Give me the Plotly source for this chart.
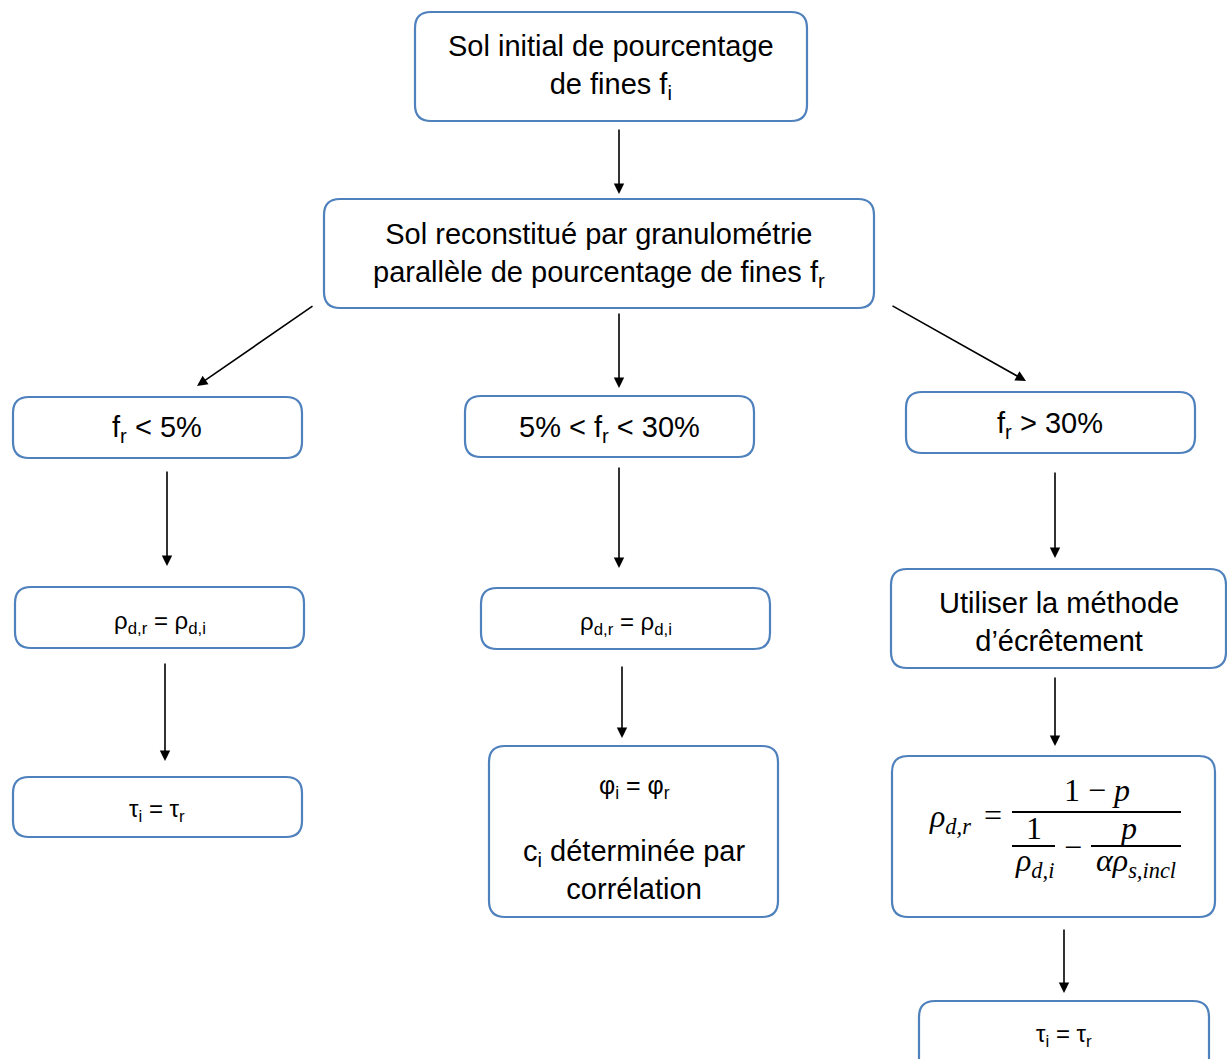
import plotly.graph_objects as go

# ---- content ----
box_labels = [
    "Sol initial de pourcentage<br>de fines f<sub>i</sub>",
    "Sol reconstitué par granulométrie<br>parallèle de pourcentage de fines f<sub>r</sub>",
    "f<sub>r</sub> < 5%",
    "5% < f<sub>r</sub> < 30%",
    "f<sub>r</sub> > 30%",
    "ρ<sub>d,r</sub> = ρ<sub>d,i</sub>",
    "ρ<sub>d,r</sub> = ρ<sub>d,i</sub>",
    "Utiliser la méthode<br>d’écrêtement",
    "τ<sub>i</sub> = τ<sub>r</sub>",
    "",
    "",
    "τ<sub>i</sub> = τ<sub>r</sub>",
]

# ---- layout geometry (pixels) ----
box_rects = [
    (415, 12, 807, 121),
    (324, 199, 874, 308),
    (13, 397, 302, 458),
    (465, 396, 754, 457),
    (906, 392, 1195, 453),
    (15, 587, 304, 648),
    (481, 588, 770, 649),
    (891, 569, 1226, 668),
    (13, 777, 302, 837),
    (489, 746, 778, 917),
    (892, 756, 1215, 917),
    (919, 1001, 1209, 1075),
]
box_text_pos = [
    (611, 67, 29), (599, 255, 29), (157, 429, 29), (609, 429, 29), (1050, 425, 29),
    (160, 622, 24), (626, 623, 24), (1059, 622, 29), (157, 810, 24),
    (0, 0, 0), (0, 0, 0), (1064, 1035, 24),
]
arrows = [
    (619, 128, 619, 194), (619, 312, 619, 388), (314, 305, 197, 386),
    (891, 305, 1026, 381), (167, 470, 167, 566), (619, 466, 619, 568),
    (1055, 471, 1055, 558), (165, 662, 165, 761), (622, 665, 622, 738),
    (1055, 676, 1055, 746), (1064, 928, 1064, 993),
]

BLUE = "#4F81BD"
r = 16

def rounded(x0, y0, x1, y1, r):
    return (f"M {x0+r},{y0} L {x1-r},{y0} Q {x1},{y0} {x1},{y0+r} "
            f"L {x1},{y1-r} Q {x1},{y1} {x1-r},{y1} L {x0+r},{y1} "
            f"Q {x0},{y1} {x0},{y1-r} L {x0},{y0+r} Q {x0},{y0} {x0+r},{y0} Z")

fig = go.Figure()
fig.add_trace(go.Scatter(x=[0, 1227], y=[0, 1059], mode="markers",
                         marker=dict(opacity=0), hoverinfo="skip", showlegend=False))

shapes = []
for (x0, y0, x1, y1) in box_rects:
    shapes.append(dict(type="path", path=rounded(x0, y0, x1, y1, r), xref="x", yref="y",
                       line=dict(color=BLUE, width=2.2), fillcolor="white", layer="below"))

annotations = []
FONT = "Liberation Sans, Arial, sans-serif"
for lab, (x, y, s) in zip(box_labels, box_text_pos):
    if not lab:
        continue
    annotations.append(dict(x=x, y=y, xref="x", yref="y", text=lab, showarrow=False,
                            font=dict(family=FONT, size=s, color="black"),
                            align="center", xanchor="center", yanchor="middle"))

# phi box text
annotations.append(dict(x=634, y=787, xref="x", yref="y", text="φ<sub>i</sub> = φ<sub>r</sub>",
                        showarrow=False, font=dict(family=FONT, size=25, color="black")))
annotations.append(dict(x=634, y=870, xref="x", yref="y",
                        text="c<sub>i</sub> déterminée par<br>corrélation",
                        showarrow=False, font=dict(family=FONT, size=29, color="black")))

# formula
SERIF = "Liberation Serif, DejaVu Serif, serif"
def ftxt(x, y, t, s=32):
    annotations.append(dict(x=x, y=y, xref="x", yref="y", text=t, showarrow=False,
                            font=dict(family=SERIF, size=s, color="black"),
                            xanchor="center", yanchor="middle"))
ftxt(950, 818, "<i>ρ</i><sub><i>d,r</i></sub>")
ftxt(993, 815, "=")
ftxt(1097, 790, "1 − <i>p</i>")
ftxt(1034, 828, "1")
ftxt(1034, 862, "<i>ρ</i><sub><i>d,i</i></sub>")
ftxt(1073, 847, "−")
ftxt(1128, 828, "<i>p</i>")
ftxt(1136, 862, "<i>αρ</i><sub><i>s,incl</i></sub>")
for (x0, x1, y) in [(1012, 1181, 812), (1012, 1055, 846), (1091, 1181, 846)]:
    shapes.append(dict(type="line", x0=x0, x1=x1, y0=y, y1=y, xref="x", yref="y",
                       line=dict(color="black", width=2)))

for (tx, ty, hx, hy) in arrows:
    annotations.append(dict(x=hx, y=hy, ax=tx, ay=ty, xref="x", yref="y", axref="x", ayref="y",
                            text="", showarrow=True, arrowhead=2, arrowsize=1.3,
                            arrowwidth=1.6, arrowcolor="black", standoff=0))

fig.update_layout(
    width=1227, height=1059, autosize=False,
    margin=dict(l=0, r=0, t=0, b=0),
    plot_bgcolor="white", paper_bgcolor="white",
    xaxis=dict(range=[0, 1227], visible=False, fixedrange=True),
    yaxis=dict(range=[1059, 0], visible=False, fixedrange=True),
    shapes=shapes, annotations=annotations, showlegend=False,
)
fig.write_html("out.html", config={"displayModeBar": False},
               post_script="document.body.style.margin='0';document.body.style.overflow='hidden';")
